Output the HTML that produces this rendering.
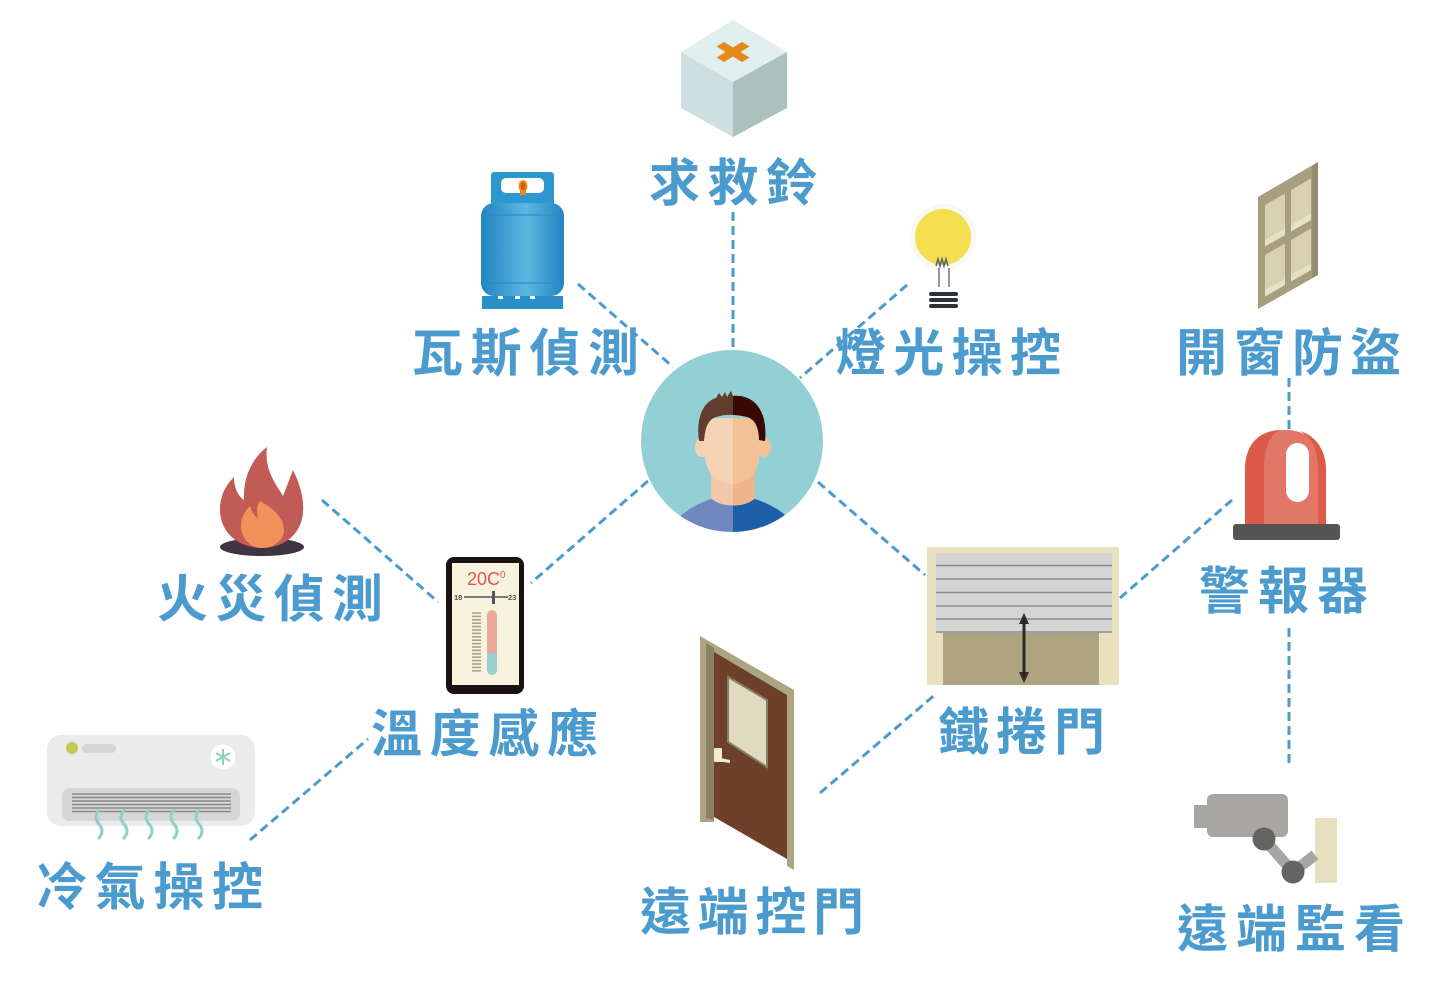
<!DOCTYPE html>
<html><head><meta charset="utf-8"><style>
html,body{margin:0;padding:0;background:#fff;}
svg{display:block;}
.lb{font-family:"Liberation Sans","Noto Sans CJK TC","Noto Sans CJK SC",sans-serif;font-size:51px;font-weight:700;fill:#4b9bcf;}
</style></head><body>
<svg width="1454" height="1006" viewBox="0 0 1454 1006" xmlns="http://www.w3.org/2000/svg">
<defs>
<linearGradient id="gas" x1="0" x2="1" y1="0" y2="0">
<stop offset="0" stop-color="#2184c0"/><stop offset="0.55" stop-color="#5db7e2"/><stop offset="1" stop-color="#2184c0"/>
</linearGradient>
<clipPath id="circ"><circle cx="732" cy="441" r="91"/></clipPath>
<clipPath id="rh"><rect x="733" y="300" width="200" height="300"/></clipPath>
</defs>

<!-- dashed connectors -->
<g stroke="#4b9bcf" stroke-width="3" stroke-dasharray="9 5" fill="none">
<line x1="733" y1="212" x2="733" y2="350"/>
<line x1="578" y1="284" x2="673" y2="367"/>
<line x1="907" y1="285" x2="800" y2="378"/>
<line x1="648" y1="481" x2="531" y2="583"/>
<line x1="818" y1="482" x2="925" y2="575"/>
<line x1="322" y1="500" x2="438" y2="602"/>
<line x1="250" y1="840" x2="368" y2="739"/>
<line x1="820" y1="793" x2="937" y2="693"/>
<line x1="1120" y1="598" x2="1232" y2="500"/>
<line x1="1289" y1="378" x2="1289" y2="430"/>
<line x1="1289" y1="628" x2="1289" y2="767"/>
</g>

<!-- emergency box -->
<polygon points="733,20 787,52 733,82 681,52" fill="#e1efef"/>
<polygon points="681,52 733,82 733,137 681,108" fill="#cde0df"/>
<polygon points="733,82 787,52 787,108 733,137" fill="#aac1bd"/>
<polygon points="749.5,57.5 742,62 716.5,46.5 724,42" fill="#e38a1a"/>
<polygon points="749.5,46.5 742,42 716.5,57.5 724,62" fill="#e38a1a"/>

<!-- gas cylinder -->
<rect x="491" y="172" width="63" height="36" rx="3" fill="#2f97cf"/>
<rect x="501" y="178" width="43" height="15" rx="5" fill="#fff"/>
<rect x="520" y="188" width="6" height="7" fill="#e58a1f"/>
<ellipse cx="523" cy="186" rx="4.5" ry="6" fill="#ef8b1e"/>
<ellipse cx="523" cy="186" rx="2.5" ry="4" fill="#d2600c"/>
<rect x="481" y="203" width="83" height="93" rx="13" fill="url(#gas)"/>
<rect x="481" y="214" width="83" height="2" fill="#2a8cc6" opacity="0.6"/>
<rect x="481" y="282" width="83" height="2" fill="#2a8cc6" opacity="0.6"/>
<rect x="482" y="296" width="81" height="13" fill="#2a8ec7"/>
<rect x="498" y="296" width="5" height="3" fill="#fff"/>
<rect x="515" y="296" width="5" height="3" fill="#fff"/>
<rect x="530" y="296" width="5" height="3" fill="#fff"/>

<!-- bulb -->
<circle cx="943" cy="237" r="33" fill="#f8f8f4"/>
<circle cx="943" cy="237" r="28" fill="#f4df4e"/>
<polyline points="936,266 938,259 940,266 942,259 944,266 946,259 948,266" fill="none" stroke="#5b646b" stroke-width="1.5"/>
<line x1="939" y1="268" x2="939" y2="287" stroke="#6f777c" stroke-width="1.5"/>
<line x1="949" y1="268" x2="949" y2="287" stroke="#6f777c" stroke-width="1.5"/>
<rect x="929" y="292" width="29" height="4" rx="2" fill="#2b3339"/>
<rect x="929" y="298" width="29" height="4" rx="2" fill="#2b3339"/>
<rect x="929" y="304" width="29" height="4" rx="2" fill="#2b3339"/>

<!-- window -->
<polygon points="1258,197 1318,162 1318,275 1258,309" fill="#a69e7f"/>
<polygon points="1312,166 1318,162 1318,275 1312,278" fill="#958d6f"/>
<g fill="#d7d1b2">
<polygon points="1265,205 1285,193.5 1285,235 1265,246.5"/>
<polygon points="1265,255 1285,243.5 1285,285 1265,296.5"/>
<polygon points="1291,190 1311,178.5 1311,220 1291,231.5"/>
<polygon points="1291,240 1311,228.5 1311,270 1291,281.5"/>
</g>
<g fill="#e6e0c6">
<polygon points="1265,240 1285,228.5 1285,235 1265,246.5"/>
<polygon points="1265,290 1285,278.5 1285,285 1265,296.5"/>
<polygon points="1291,225 1311,213.5 1311,220 1291,231.5"/>
<polygon points="1291,275 1311,263.5 1311,270 1291,281.5"/>
</g>

<!-- person -->
<circle cx="732" cy="441" r="91" fill="#92d0d6"/>
<g clip-path="url(#circ)">
<path d="M660 545 C672 515 695 505 711 499 L755 499 C772 505 795 515 805 545 Z" fill="#6f88bf"/>
<path d="M660 545 C672 515 695 505 711 499 L755 499 C772 505 795 515 805 545 Z" fill="#1d5fa8" clip-path="url(#rh)"/>
</g>
<path d="M711 462 L711 498 C720 508 746 508 755 498 L755 462 Z" fill="#f1c9aa"/>
<path d="M711 462 L711 498 C720 508 746 508 755 498 L755 462 Z" fill="#edb48e" clip-path="url(#rh)"/>
<ellipse cx="702" cy="447" rx="7" ry="10" fill="#f5d2b4"/>
<ellipse cx="764" cy="447" rx="7" ry="10" fill="#f3c196"/>
<path d="M705 418 L705 455 C705 474 719 484 732 484 C746 484 759 474 759 455 L759 418 Z" fill="#f5d2b4"/>
<path d="M705 418 L705 455 C705 474 719 484 732 484 C746 484 759 474 759 455 L759 418 Z" fill="#f3c196" clip-path="url(#rh)"/>
<path d="M699 441 C696 420 702 402 716 398 L719 393 L722 397 L725 392 L727 397 L731 391 L733 396 C752 394 768 408 765 441 L759 440 C759 428 755 419 747 417 C735 414 722 414 714 418 C707 421 705 430 704 441 Z" fill="#623d2e"/>
<path d="M699 441 C696 420 702 402 716 398 L719 393 L722 397 L725 392 L727 397 L731 391 L733 396 C752 394 768 408 765 441 L759 440 C759 428 755 419 747 417 C735 414 722 414 714 418 C707 421 705 430 704 441 Z" fill="#3a0807" clip-path="url(#rh)"/>

<!-- alarm -->
<path d="M1245 524 L1245 470 C1245 445 1262 430 1285 430 C1309 430 1326 445 1326 470 L1326 524 Z" fill="#e27767"/>
<path d="M1245 524 L1245 470 C1245 445 1258 431 1280 430 C1268 436 1264 450 1264 470 L1264 524 Z" fill="#dc5a48"/>
<path d="M1318 524 L1318 470 C1318 450 1312 437 1300 431 C1316 436 1326 450 1326 470 L1326 524 Z" fill="#dc5a48"/>
<rect x="1286" y="443" width="23" height="59" rx="11.5" fill="#fff"/>
<rect x="1233" y="524" width="107" height="16" rx="3" fill="#555453"/>

<!-- fire -->
<ellipse cx="262" cy="547" rx="42" ry="9" fill="#3e3540"/>
<path d="M262 548 C238 548 220 532 220 510 C220 494 227 484 234 477 C234 488 238 496 244 500 C243 480 250 460 267 447 C264 470 276 484 283 496 C286 488 290 478 293 470 C300 484 304 498 303 512 C302 532 286 548 262 548 Z" fill="#c15b56"/>
<path d="M262 548 C250 548 241 538 241 526 C241 516 246 510 250 506 C252 512 254 516 258 518 C257 512 256 506 260 501 C273 508 284 518 284 530 C284 540 274 548 262 548 Z" fill="#f0925a"/>

<!-- thermostat -->
<rect x="446" y="557" width="78" height="137" rx="8" fill="#1a1212"/>
<rect x="452" y="563" width="67" height="122" fill="#f6f3df"/>
<text x="467" y="585" font-family="'Liberation Sans',sans-serif" font-size="18" fill="#e0564c">20C<tspan font-size="10" dy="-7">0</tspan></text>
<line x1="464" y1="597" x2="508" y2="597" stroke="#7b7b7b" stroke-width="2"/>
<rect x="492" y="591" width="3" height="13" fill="#555"/>
<text x="454" y="600" font-family="'Liberation Sans',sans-serif" font-size="7.5" font-weight="bold" fill="#555">18</text>
<text x="508" y="600" font-family="'Liberation Sans',sans-serif" font-size="7.5" font-weight="bold" fill="#555">23</text>
<g stroke="#aaa186" stroke-width="1.6">
<line x1="472" y1="613" x2="481" y2="613"/><line x1="472" y1="616.4" x2="481" y2="616.4"/><line x1="472" y1="619.8" x2="481" y2="619.8"/><line x1="472" y1="623.2" x2="481" y2="623.2"/><line x1="472" y1="626.6" x2="481" y2="626.6"/><line x1="472" y1="630" x2="481" y2="630"/><line x1="472" y1="633.4" x2="481" y2="633.4"/><line x1="472" y1="636.8" x2="481" y2="636.8"/><line x1="472" y1="640.2" x2="481" y2="640.2"/><line x1="472" y1="643.6" x2="481" y2="643.6"/><line x1="472" y1="647" x2="481" y2="647"/><line x1="472" y1="650.4" x2="481" y2="650.4"/><line x1="472" y1="653.8" x2="481" y2="653.8"/><line x1="472" y1="657.2" x2="481" y2="657.2"/><line x1="472" y1="660.6" x2="481" y2="660.6"/><line x1="472" y1="664" x2="481" y2="664"/><line x1="472" y1="667.4" x2="481" y2="667.4"/><line x1="472" y1="670.8" x2="481" y2="670.8"/>
</g>
<rect x="487" y="610" width="10" height="65" rx="5" fill="#eaa99b"/>
<path d="M487 653 L497 653 L497 670 A5 5 0 0 1 487 670 Z" fill="#9ccfcd"/>

<!-- AC -->
<rect x="47" y="735" width="208" height="91" rx="14" fill="#ebebeb"/>
<circle cx="72" cy="748" r="6" fill="#bfcb52"/>
<rect x="82" y="744" width="34" height="9" rx="4.5" fill="#d5d5d5"/>
<circle cx="223" cy="757" r="12.5" fill="#fff"/>
<g stroke="#8ecfc6" stroke-width="2">
<line x1="223" y1="749" x2="223" y2="765"/><line x1="216" y1="753" x2="230" y2="761"/><line x1="216" y1="761" x2="230" y2="753"/>
</g>
<rect x="62" y="788" width="178" height="33" rx="8" fill="#d6d6d6"/>
<g stroke="#8a8a8a" stroke-width="1.6">
<line x1="72" y1="794" x2="231" y2="794"/><line x1="72" y1="797.5" x2="231" y2="797.5"/><line x1="72" y1="801" x2="231" y2="801"/><line x1="72" y1="804.5" x2="231" y2="804.5"/><line x1="72" y1="808" x2="231" y2="808"/><line x1="72" y1="811.5" x2="231" y2="811.5"/>
</g>
<g stroke="#8ecfc6" stroke-width="3" fill="none" stroke-linecap="round">
<path d="M99 810 q-6 7 0 14 q6 7 0 14"/>
<path d="M124 810 q-6 7 0 14 q6 7 0 14"/>
<path d="M149 810 q-6 7 0 14 q6 7 0 14"/>
<path d="M174 810 q-6 7 0 14 q6 7 0 14"/>
<path d="M199 810 q-6 7 0 14 q6 7 0 14"/>
</g>

<!-- door -->
<polygon points="700,636 794,690 794,870 787,866 787,697 714,655 714,822 700,822" fill="#aba584"/>
<polygon points="706,643 714,648 714,820 706,818" fill="#8a8262"/>
<polygon points="714,652 787,695 787,859 714,817" fill="#6e402a"/>
<polygon points="728,677 767,700 767,767 728,742" fill="#dfdac0" stroke="#858063" stroke-width="2"/>
<rect x="714" y="748" width="8" height="14" rx="1" fill="#efead5"/>
<polygon points="716,757 730,760 730,763 716,761" fill="#efead5"/>

<!-- roller door -->
<rect x="927" y="547" width="192" height="138" fill="#e8e0bf"/>
<rect x="943" y="633" width="156" height="52" fill="#aea482"/>
<rect x="936" y="553" width="176" height="80" fill="#d4d4d4"/>
<g stroke="#8d8d8d" stroke-width="1.5">
<line x1="936" y1="565.5" x2="1112" y2="565.5"/><line x1="936" y1="579" x2="1112" y2="579"/><line x1="936" y1="592.5" x2="1112" y2="592.5"/><line x1="936" y1="606" x2="1112" y2="606"/><line x1="936" y1="619" x2="1112" y2="619"/><line x1="936" y1="632" x2="1112" y2="632"/>
</g>
<line x1="1024" y1="620" x2="1024" y2="676" stroke="#2b2b2b" stroke-width="3"/>
<polygon points="1024,613 1019,624 1029,624" fill="#2b2b2b"/>
<polygon points="1024,683 1019,672 1029,672" fill="#2b2b2b"/>

<!-- camera -->
<rect x="1315" y="818" width="22" height="65" fill="#e6e0bf"/>
<polyline points="1264,839 1293,872 1315,855" fill="none" stroke="#a8a6a2" stroke-width="11"/>
<rect x="1194" y="805" width="16" height="23" fill="#a8a6a2"/>
<rect x="1207" y="794" width="81" height="43" rx="6" fill="#a8a6a2"/>
<circle cx="1264" cy="839" r="11.5" fill="#656463"/>
<circle cx="1293" cy="872" r="11.5" fill="#656463"/>

<!-- labels -->
<text class="lb" x="649" y="201" textLength="168" lengthAdjust="spacing">求救鈴</text>
<text class="lb" x="412" y="371" textLength="227" lengthAdjust="spacing">瓦斯偵測</text>
<text class="lb" x="835" y="371" textLength="226" lengthAdjust="spacing">燈光操控</text>
<text class="lb" x="1176" y="371" textLength="225" lengthAdjust="spacing">開窗防盜</text>
<text class="lb" x="157" y="617" textLength="226" lengthAdjust="spacing">火災偵測</text>
<text class="lb" x="371" y="752" textLength="227" lengthAdjust="spacing">溫度感應</text>
<text class="lb" x="36" y="905" textLength="227" lengthAdjust="spacing">冷氣操控</text>
<text class="lb" x="640" y="930" textLength="224" lengthAdjust="spacing">遠端控門</text>
<text class="lb" x="938" y="750" textLength="167" lengthAdjust="spacing">鐵捲門</text>
<text class="lb" x="1199" y="609" textLength="169" lengthAdjust="spacing">警報器</text>
<text class="lb" x="1177" y="947" textLength="228" lengthAdjust="spacing">遠端監看</text>
</svg>
</body></html>
